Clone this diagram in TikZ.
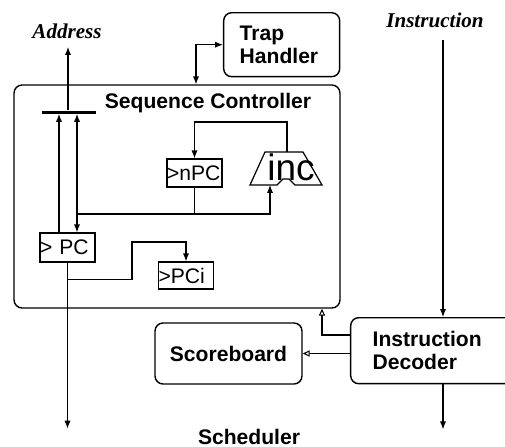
\documentclass[tikz,border=0pt]{standalone}
\usepackage{fontspec}
\setsansfont{Liberation Sans}
\newfontfamily\busfont{Liberation Serif}
\usetikzlibrary{arrows.meta}

\begin{document}
\begin{tikzpicture}[x=0.02cm,y=-0.02cm,
    >={Latex[length=4.5pt,width=3.5pt]},
    font=\sffamily\fontsize{12}{13}\selectfont,
    unit/.style={draw,rounded corners=0.16cm,line width=0.8pt,font=\sffamily\bfseries\fontsize{12}{13}\selectfont},
    reg/.style={draw,line width=0.7pt,inner sep=0pt,minimum width=1.1cm,text width=1.1cm,align=left},
    sig/.style={line width=0.6pt,->},
    ctl/.style={line width=0.6pt,-{Triangle[open,length=4pt,width=3.5pt]}},
    ext/.style={font=\busfont\bfseries\itshape\fontsize{12}{13}\selectfont}]
    \useasboundingbox (0,0) rectangle (505,447);
    \fill[white] (0,0) rectangle (505,447);
    \clip (0,0) rectangle (505,447);

    % units
    \node[unit,minimum width=6.52cm,minimum height=4.46cm] (seq) at (177,196.5) {};
    \node[font=\sffamily\bfseries\fontsize{12}{13}\selectfont] (seqname) at (208,103) {Sequence Controller};
    \node[unit,anchor=north west,minimum width=2.32cm,minimum height=1.28cm,text width=1.68cm,inner xsep=0.32cm,align=left] (trap) at (223,12) {Trap\\Handler};
    \node[unit,minimum width=2.94cm,minimum height=1.22cm] (sb) at (228.5,353.5) {Scoreboard};
    \node[unit,anchor=north west,minimum width=3.3cm,minimum height=1.32cm,text width=2.42cm,inner xsep=0.44cm,align=left] (idec) at (350,317) {Instruction\\Decoder};

    % registers and the bus
    \node[reg,minimum height=0.56cm] (npc) at (194.5,173) {>nPC};
    \node[reg,minimum height=0.58cm] (pc) at (67.5,247.5) {> PC};
    \node[reg,minimum height=0.54cm] (pci) at (186,275.5) {>PCi};
    \node[fill,minimum width=1.08cm,minimum height=0.06cm,inner sep=0pt] (bus) at (69,112) {};

    % incrementer
    \draw[line width=0.7pt] (250,185) -- (265,152) -- (303,152) -- (322,185) -- (295,185)
        -- (289,179) -- (283,179) -- (277,185) -- cycle;
    \node[font=\sffamily\fontsize{21}{21}\selectfont] (inc) at (291,167) {inc};

    \node[ext] (addr) at (67,31) {Address};
    \node[ext] (instr) at (435,20) {Instruction};
    \node[font=\sffamily\bfseries\fontsize{12}{13}\selectfont] (sched) at (249,437) {Scheduler};

    \coordinate (addrtip) at (68,47);
    \coordinate (pcw) at (59,0);
    \coordinate (jn) at (77,214);
    \coordinate (incin) at (270,185);
    \coordinate (incout) at (287,152);
    \coordinate (kink) at (132,242);
    \coordinate (trapw) at (196,0);
    \coordinate (iw) at (443,40);
    \coordinate (fb) at (322,335);

    % wiring
    \draw[sig] (bus.north -| addrtip) -- (addrtip);
    \draw[sig] (pc.north -| pcw) -- (bus.south -| pcw);
    \draw[line width=0.6pt] (npc.south) -- (npc.south |- jn);
    \draw[sig] (jn) -- (bus.south -| jn);
    \draw[sig] (jn) -- (pc.north -| jn);
    \draw[sig] (jn) -| (incin);
    \draw[sig] (incout) -- ++(0,-30) -| (npc.north);
    \draw[sig] (pc.south) -- ++(0,166);
    \draw[sig] (pc.south) ++(0,17) -| (kink) -| (pci.north);
    \draw[line width=0.6pt,<->] (seq.north -| trapw) |- (trap.west);
    \draw[sig] (iw) -- (iw |- idec.north);
    \draw[sig] (iw |- idec.south) -- ++(0,45);
    \draw[ctl] (idec.west |- sb) -- (sb.east);
    \draw[ctl] (idec.west |- fb) -| (seq.south -| fb);
\end{tikzpicture}
\end{document}
